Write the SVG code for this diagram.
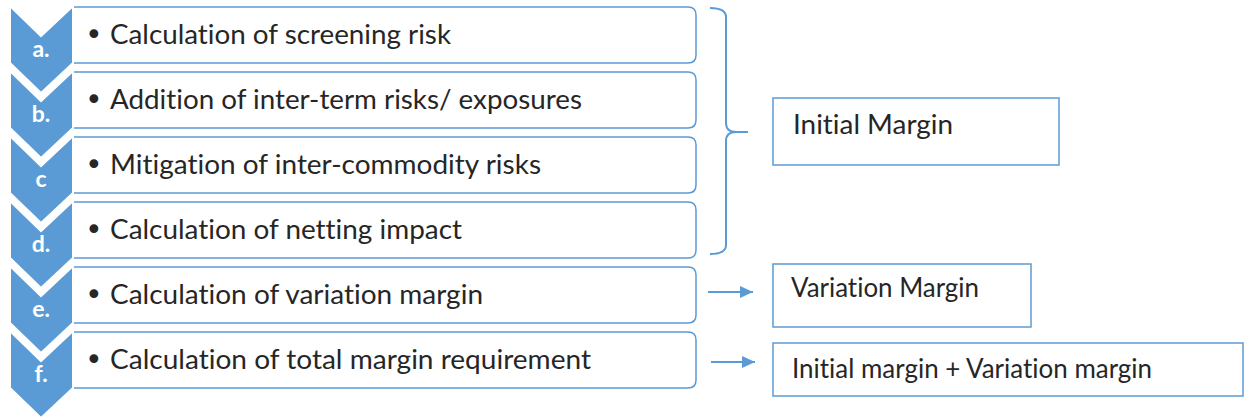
<svg xmlns="http://www.w3.org/2000/svg" width="1246" height="419" viewBox="0 0 1246 419">
  <style>
    .chev { fill: #5B9BD5; stroke: #FFFFFF; stroke-width: 2; stroke-linejoin: miter; }
    .box { fill: #FFFFFF; stroke: #5B9BD5; stroke-width: 1.5; }
    .out { fill: #FFFFFF; stroke: #5B9BD5; stroke-width: 1.5; }
    .lbl { font-family: Lato, "Open Sans", sans-serif; font-weight: bold; font-size: 23px; fill: #FFFFFF; text-anchor: middle; }
    .txt { font-family: Lato, "Open Sans", sans-serif; font-size: 27px; fill: #262626; font-variant-ligatures: none; }
    .bul { font-family: "DejaVu Sans", sans-serif; font-size: 30px; fill: #262626; }
    .link { fill: none; stroke: #5B9BD5; stroke-width: 2; }
  </style>
  <defs>
    <marker id="arrow" viewBox="0 0 13 12" refX="13" refY="6" markerWidth="13" markerHeight="12" markerUnits="userSpaceOnUse" orient="auto">
      <path d="M0,0 L13,6 L0,12 Z" fill="#5B9BD5"/>
    </marker>
  </defs>
  <rect width="1246" height="419" fill="#FFFFFF"/>

  <!-- step a -->
  <g id="step-a">
    <path class="box" d="M73,7 H688 Q696,7 696,15 V55 Q696,63 688,63 H73 Z"/>
    <path class="chev" d="M10,6 L41,36 L73,6 L73,63 L41,93 L10,63 Z"/>
    <text class="lbl" x="41" y="57">a.</text>
    <text class="bul" x="85" y="45">•</text>
    <text class="txt" x="110" y="44" textLength="341" lengthAdjust="spacingAndGlyphs">Calculation of screening risk</text>
  </g>

  <!-- step b -->
  <g id="step-b">
    <path class="box" d="M73,72 H688 Q696,72 696,80 V120 Q696,128 688,128 H73 Z"/>
    <path class="chev" d="M10,71 L41,101 L73,71 L73,128 L41,158 L10,128 Z"/>
    <text class="lbl" x="41" y="122">b.</text>
    <text class="bul" x="85" y="110">•</text>
    <text class="txt" x="110" y="109" textLength="472" lengthAdjust="spacingAndGlyphs">Addition of inter-term risks/ exposures</text>
  </g>

  <!-- step c -->
  <g id="step-c">
    <path class="box" d="M73,137 H688 Q696,137 696,145 V185 Q696,193 688,193 H73 Z"/>
    <path class="chev" d="M10,136 L41,166 L73,136 L73,193 L41,223 L10,193 Z"/>
    <text class="lbl" x="41" y="187">c</text>
    <text class="bul" x="85" y="175">•</text>
    <text class="txt" x="110" y="174" textLength="431" lengthAdjust="spacingAndGlyphs">Mitigation of inter-commodity risks</text>
  </g>

  <!-- step d -->
  <g id="step-d">
    <path class="box" d="M73,202 H688 Q696,202 696,210 V250 Q696,258 688,258 H73 Z"/>
    <path class="chev" d="M10,201 L41,231 L73,201 L73,258 L41,288 L10,258 Z"/>
    <text class="lbl" x="41" y="252">d.</text>
    <text class="bul" x="85" y="240">•</text>
    <text class="txt" x="110" y="239" textLength="352" lengthAdjust="spacingAndGlyphs">Calculation of netting impact</text>
  </g>

  <!-- step e -->
  <g id="step-e">
    <path class="box" d="M73,267 H688 Q696,267 696,275 V315 Q696,323 688,323 H73 Z"/>
    <path class="chev" d="M10,266 L41,296 L73,266 L73,323 L41,353 L10,323 Z"/>
    <text class="lbl" x="41" y="317">e.</text>
    <text class="bul" x="85" y="305">•</text>
    <text class="txt" x="110" y="304" textLength="373" lengthAdjust="spacingAndGlyphs">Calculation of variation margin</text>
  </g>

  <!-- step f -->
  <g id="step-f">
    <path class="box" d="M73,332 H688 Q696,332 696,340 V380 Q696,388 688,388 H73 Z"/>
    <path class="chev" d="M10,331 L41,361 L73,331 L73,388 L41,418 L10,388 Z"/>
    <text class="lbl" x="41" y="382">f.</text>
    <text class="bul" x="85" y="370">•</text>
    <text class="txt" x="110" y="369" textLength="481" lengthAdjust="spacingAndGlyphs">Calculation of total margin requirement</text>
  </g>

  <!-- result boxes -->
  <g id="initial-margin">
    <rect class="out" x="773" y="98" width="286" height="67"/>
    <text class="txt" x="793" y="134" textLength="160" lengthAdjust="spacingAndGlyphs">Initial Margin</text>
  </g>
  <g id="variation-margin">
    <rect class="out" x="773" y="264" width="258" height="63"/>
    <text class="txt" x="791" y="297" textLength="188" lengthAdjust="spacingAndGlyphs">Variation Margin</text>
  </g>
  <g id="total-margin">
    <rect class="out" x="773" y="343" width="470" height="53"/>
    <text class="txt" x="792" y="378" textLength="360" lengthAdjust="spacingAndGlyphs">Initial margin + Variation margin</text>
  </g>

  <!-- connectors -->
  <g id="connectors">
    <path class="link" d="M710,8 Q726,8 726,17 V123 Q726,132 736,132 H748 M736,132 Q726,132 726,141 V245 Q726,254 710,254"/>
    <line class="link" x1="708" y1="292" x2="753" y2="292" marker-end="url(#arrow)"/>
    <line class="link" x1="711" y1="362" x2="755" y2="362" marker-end="url(#arrow)"/>
  </g>
</svg>
